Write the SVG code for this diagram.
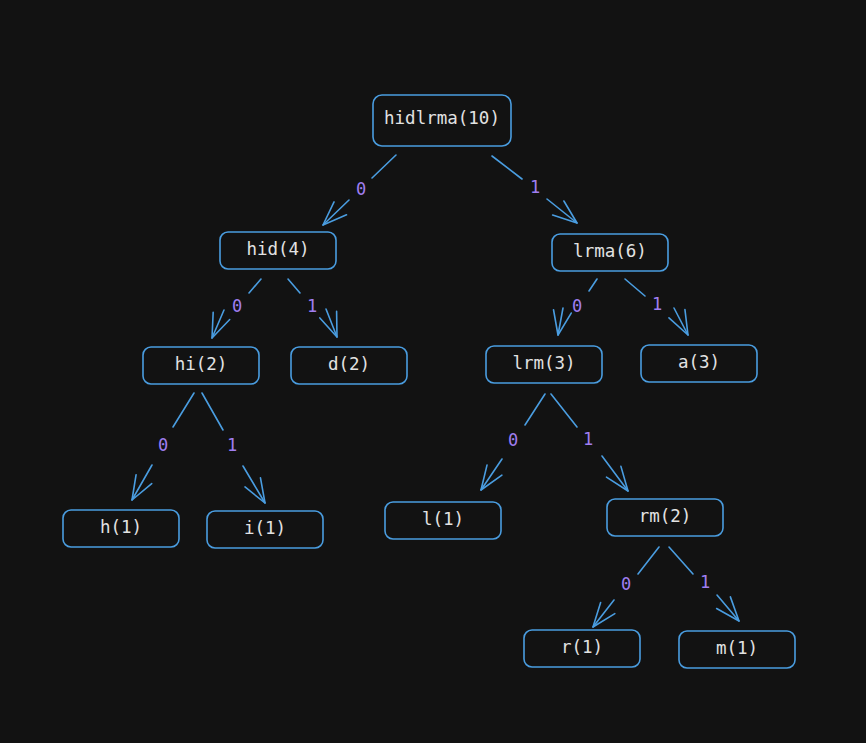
<svg xmlns="http://www.w3.org/2000/svg" width="866" height="743" viewBox="0 0 866 743">
<defs>
<style>
.box{fill:#121212;stroke:#4a9de0;stroke-width:1.6}
.t{font-family:"DejaVu Sans Mono","Liberation Mono",monospace;font-size:17.5px;fill:#e2e2e2;text-anchor:middle;dominant-baseline:central}
.e{fill:none;stroke:#4a9de0;stroke-width:1.6;stroke-linecap:round}
.lb{font-family:"DejaVu Sans Mono","Liberation Mono",monospace;font-size:17px;fill:#a07ef0;text-anchor:middle;dominant-baseline:central}
</style>
<marker id="ah" viewBox="-30 -15 35 30" refX="0" refY="0" markerWidth="35" markerHeight="30" markerUnits="userSpaceOnUse" orient="auto" overflow="visible">
<path d="M -24 -9 L 0 0 L -24 9" fill="none" stroke="#4a9de0" stroke-width="1.6" stroke-linecap="round" stroke-linejoin="round"/>
</marker>
</defs>
<rect width="866" height="743" fill="#121212"/>
<g id="connectors">
<path class="e" d="M396 155 L372 178"/><path class="e" d="M349 200 L323 225" marker-end="url(#ah)"/>
<path class="e" d="M492 156 L522 179"/><path class="e" d="M547 199 L577 223" marker-end="url(#ah)"/>
<path class="e" d="M261 279 L249 293"/><path class="e" d="M224 310 L212 338" marker-end="url(#ah)"/>
<path class="e" d="M288 279 L300 293"/><path class="e" d="M326 309 L337 337" marker-end="url(#ah)"/>
<path class="e" d="M597 279 L589 291"/><path class="e" d="M563 308 L558 335" marker-end="url(#ah)"/>
<path class="e" d="M625 279 L645 296"/><path class="e" d="M674 308 L688 335" marker-end="url(#ah)"/>
<path class="e" d="M194 393 L173 427"/><path class="e" d="M152 465 L132 500" marker-end="url(#ah)"/>
<path class="e" d="M202 393 L223 430"/><path class="e" d="M243 466 L265 503" marker-end="url(#ah)"/>
<path class="e" d="M545 394 L525 425"/><path class="e" d="M502 459 L481 490" marker-end="url(#ah)"/>
<path class="e" d="M551 394 L577 427"/><path class="e" d="M602 456 L628 491" marker-end="url(#ah)"/>
<path class="e" d="M659 547 L638 574"/><path class="e" d="M614 600 L593 627" marker-end="url(#ah)"/>
<path class="e" d="M669 547 L693 574"/><path class="e" d="M717 595 L739 621" marker-end="url(#ah)"/>
<text class="lb" x="361" y="189">0</text>
<text class="lb" x="535" y="187">1</text>
<text class="lb" x="237" y="306">0</text>
<text class="lb" x="312" y="306">1</text>
<text class="lb" x="577" y="306">0</text>
<text class="lb" x="657" y="304">1</text>
<text class="lb" x="163" y="445">0</text>
<text class="lb" x="232" y="445">1</text>
<text class="lb" x="513" y="440">0</text>
<text class="lb" x="588" y="439">1</text>
<text class="lb" x="626" y="584">0</text>
<text class="lb" x="705" y="582">1</text>
</g>
<g id="n-root"><rect class="box" x="373" y="95" width="138" height="51" rx="9"/><text class="t" x="442" y="118">hidlrma(10)</text></g>
<g id="n-hid"><rect class="box" x="220" y="232" width="116" height="37" rx="8"/><text class="t" x="278" y="249">hid(4)</text></g>
<g id="n-lrma"><rect class="box" x="552" y="234" width="116" height="37" rx="8"/><text class="t" x="610" y="251">lrma(6)</text></g>
<g id="n-hi"><rect class="box" x="143" y="347" width="116" height="37" rx="8"/><text class="t" x="201" y="364">hi(2)</text></g>
<g id="n-d"><rect class="box" x="291" y="347" width="116" height="37" rx="8"/><text class="t" x="349" y="364">d(2)</text></g>
<g id="n-lrm"><rect class="box" x="486" y="346" width="116" height="37" rx="8"/><text class="t" x="544" y="363">lrm(3)</text></g>
<g id="n-a"><rect class="box" x="641" y="345" width="116" height="37" rx="8"/><text class="t" x="699" y="362">a(3)</text></g>
<g id="n-h"><rect class="box" x="63" y="510" width="116" height="37" rx="8"/><text class="t" x="121" y="527">h(1)</text></g>
<g id="n-i"><rect class="box" x="207" y="511" width="116" height="37" rx="8"/><text class="t" x="265" y="528">i(1)</text></g>
<g id="n-l"><rect class="box" x="385" y="502" width="116" height="37" rx="8"/><text class="t" x="443" y="519">l(1)</text></g>
<g id="n-rm"><rect class="box" x="607" y="499" width="116" height="37" rx="8"/><text class="t" x="665" y="516">rm(2)</text></g>
<g id="n-r"><rect class="box" x="524" y="630" width="116" height="37" rx="8"/><text class="t" x="582" y="647">r(1)</text></g>
<g id="n-m"><rect class="box" x="679" y="631" width="116" height="37" rx="8"/><text class="t" x="737" y="648">m(1)</text></g>
</svg>
